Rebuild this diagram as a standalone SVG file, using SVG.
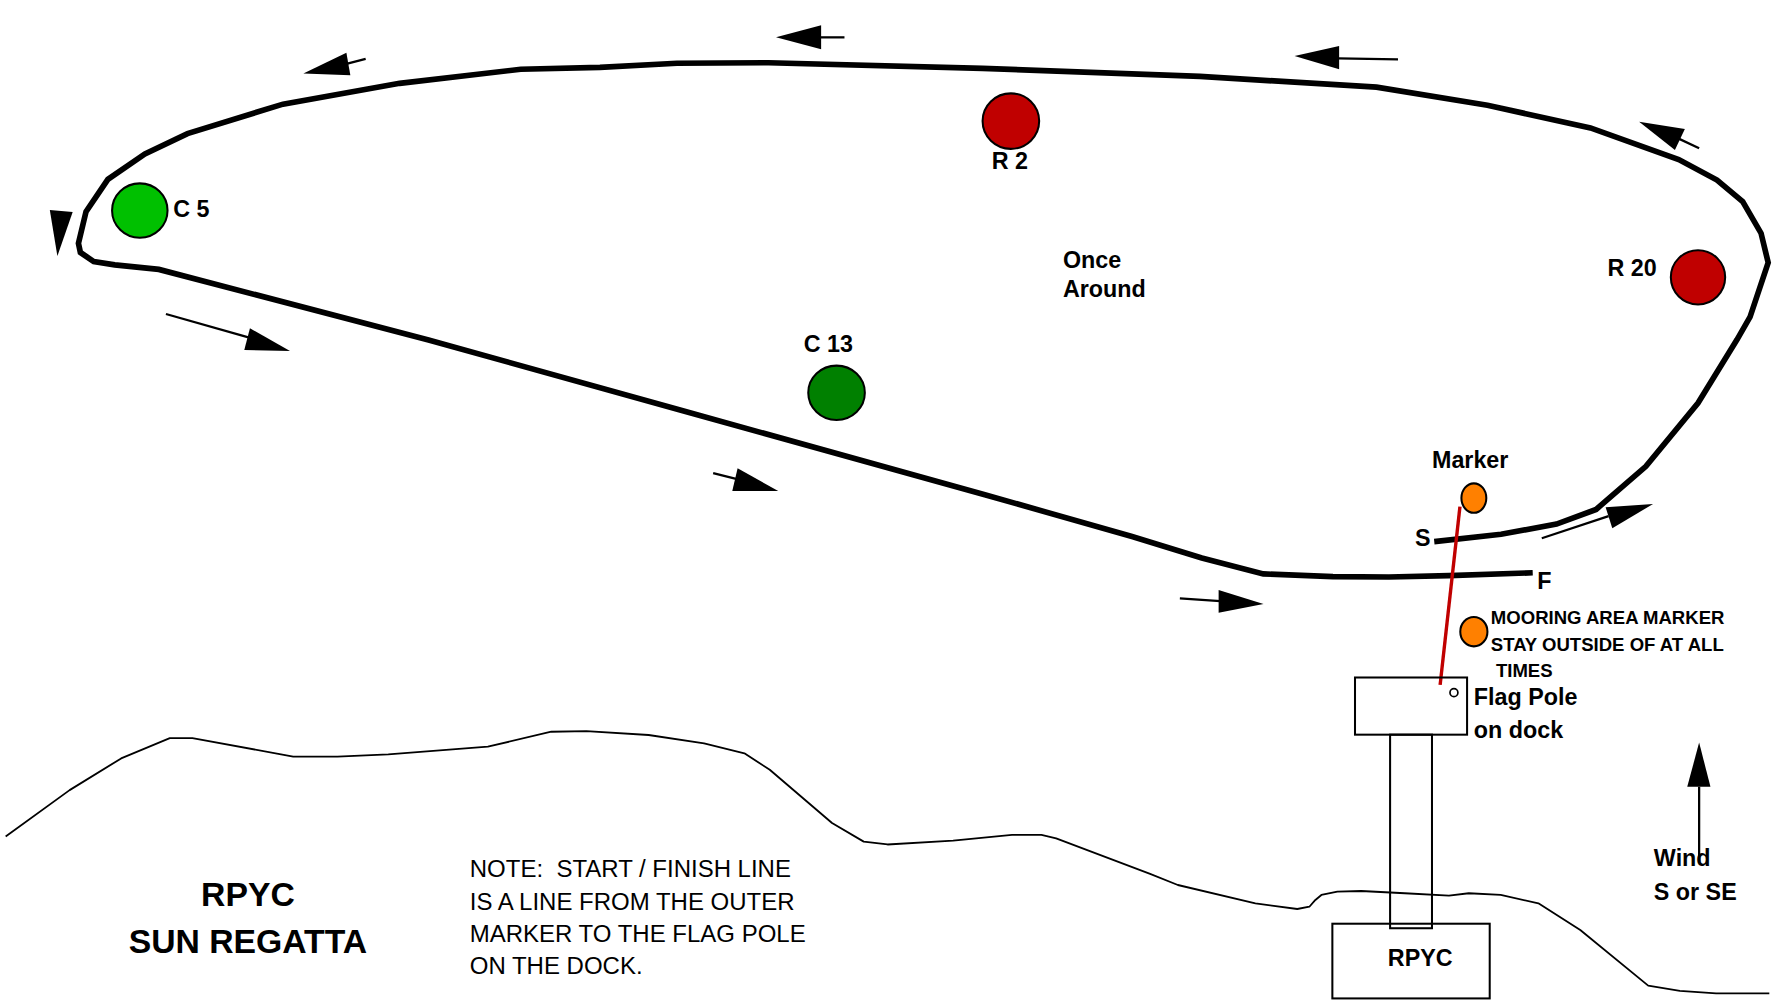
<svg xmlns="http://www.w3.org/2000/svg" width="1775" height="1001" viewBox="0 0 1775 1001">
<style>
.course{fill:none;stroke:#000;stroke-width:5;stroke-linejoin:miter;stroke-miterlimit:4}
.arr{fill:none;stroke:#000;stroke-width:2}
.head{fill:#000;stroke:none}
.shore{fill:none;stroke:#000;stroke-width:1.6;stroke-linejoin:round}
.buoy{stroke:#000;stroke-width:1.8}
.box{fill:none;stroke:#000;stroke-width:1.8}
.lbl{font-family:"Liberation Sans",Arial,sans-serif;font-weight:bold;font-size:20.6px;fill:#000}
.small{font-family:"Liberation Sans",Arial,sans-serif;font-weight:bold;font-size:16.4px;fill:#000}
.title{font-family:"Liberation Sans",Arial,sans-serif;font-weight:bold;font-size:29.8px;fill:#000;text-anchor:middle}
.note{font-family:"Liberation Sans",Arial,sans-serif;font-size:21.2px;fill:#000;white-space:pre}
</style>
<rect width="1775" height="1001" fill="#fff"/>
<g transform="scale(1.132)">
  <g id="shoreline">
    <polyline class="shore" points="5,739 61.5,698 107,670 150,652 170,652 259,668.4 298,668.4 343,666.4 431,659.6 487,646.4 518,645.8 573,649.3 622,656.6 657.6,665.5 680,680 735,727 763,743.5 784,746 842,742.6 894,737.6 920,737.6 933,740.6 1016,772 1040.5,781.8 1109,798 1146,803 1156.7,801 1162,795 1167.3,790.6 1181.4,787.7 1202.5,787.1 1241,789.1 1280,791.2 1297.5,789.1 1325.7,790.6 1359,798 1396,821.6 1456,870.7 1484,875.4 1516,877.5 1563,877.5"/>
  </g>
  <g id="course">
    <polyline class="course" points="1267,478.5 1326,472 1375,463 1410,450 1454,412 1500,356 1534.5,300 1546,280 1562,232 1555.7,206 1539.5,178 1516.8,159 1483,141 1405,113 1314,93 1216,77 1060,67.5 868,60.4 679,55.4 598,55.9 530,59.5 460,61.2 353,73.6 250,92 165.6,118 128,136 95.3,158.4 76,187 69.3,215 71,223 82.8,231 101.4,234 140.3,238 378.6,300.3 600,362 870,437 1000,474 1061.7,493 1116,507 1177.5,509.4 1227,509.7 1280,508.5 1354,506"/>
  </g>
  <g id="connectors">
    <line class="arr" x1="323" y1="52" x2="306" y2="56.5"/>
    <polygon class="head" points="268,65 306,46.5 309.5,66.5"/>
    <line class="arr" x1="746" y1="33" x2="724" y2="33"/>
    <polygon class="head" points="685.5,33 725.4,22.4 725.4,43.5"/>
    <line class="arr" x1="1235" y1="52.4" x2="1182" y2="51.5"/>
    <polygon class="head" points="1143.6,49.5 1183,40.6 1183,61.2"/>
    <line class="arr" x1="1501" y1="131" x2="1482" y2="122"/>
    <polygon class="head" points="1448,107.5 1488.4,114 1479.6,132.5"/>
    <polygon class="head" points="44,185.5 64.2,187.3 50.7,226.2"/>
    <line class="arr" x1="146.6" y1="277.4" x2="221" y2="298.5"/>
    <polygon class="head" points="220.8,290 215.8,309.2 256.2,310"/>
    <line class="arr" x1="630" y1="418" x2="652" y2="423.5"/>
    <polygon class="head" points="651.6,413.7 646.9,433.7 687.5,433.7"/>
    <line class="arr" x1="1042.3" y1="528.5" x2="1078" y2="531"/>
    <polygon class="head" points="1076.5,521.2 1076.5,541.2 1116.2,533.6"/>
    <line class="arr" x1="1362" y1="475.5" x2="1421" y2="456"/>
    <polygon class="head" points="1418.4,448.2 1424.3,466.7 1460.3,445.2"/>
    <line class="arr" x1="1501" y1="695" x2="1501" y2="761"/>
    <polygon class="head" points="1501,656 1490.5,695 1511,695"/>
    <line x1="1289.7" y1="447.6" x2="1272.2" y2="605" stroke="#c00000" stroke-width="3"/>
  </g>
  <g id="c5">
    <ellipse class="buoy" cx="123.5" cy="186" rx="24.5" ry="24" fill="#00c000"/>
    <text class="lbl" x="153" y="192">C 5</text>
  </g>
  <g id="r2">
    <ellipse class="buoy" cx="893" cy="107" rx="25" ry="24.5" fill="#c00000"/>
    <text class="lbl" x="876" y="149">R 2</text>
  </g>
  <g id="c13">
    <ellipse class="buoy" cx="739" cy="347" rx="25" ry="24" fill="#008000"/>
    <text class="lbl" x="710" y="311">C 13</text>
  </g>
  <g id="r20">
    <ellipse class="buoy" cx="1500" cy="245" rx="24" ry="24" fill="#c00000"/>
    <text class="lbl" x="1420" y="244">R 20</text>
  </g>
  <g id="once-around">
    <text class="lbl" x="939" y="237">Once</text>
    <text class="lbl" x="939" y="262">Around</text>
  </g>
  <g id="marker">
    <ellipse class="buoy" cx="1302" cy="440" rx="11" ry="13" fill="#ff8000"/>
    <text class="lbl" x="1265" y="413.5">Marker</text>
  </g>
  <g id="start-finish">
    <text class="lbl" x="1250" y="482">S</text>
    <text class="lbl" x="1358" y="520">F</text>
  </g>
  <g id="mooring">
    <ellipse class="buoy" cx="1302" cy="558" rx="12" ry="13" fill="#ff8000"/>
    <text class="small" x="1317" y="551">MOORING AREA MARKER</text>
    <text class="small" x="1317" y="575">STAY OUTSIDE OF AT ALL</text>
    <text class="small" x="1321.5" y="598">TIMES</text>
  </g>
  <g id="dock">
    <rect class="box" x="1177" y="816" width="139" height="66"/>
    <rect class="box" x="1228" y="649" width="37" height="171"/>
    <rect class="box" x="1197" y="598.5" width="99" height="50.5"/>
    <circle cx="1284.4" cy="611.9" r="3.5" fill="#fff" stroke="#000" stroke-width="1.5"/>
    <text class="lbl" x="1302" y="623">Flag Pole</text>
    <text class="lbl" x="1302" y="652">on dock</text>
    <text class="lbl" x="1226" y="853">RPYC</text>
  </g>
  <g id="wind">
    <text class="lbl" x="1461" y="765">Wind</text>
    <text class="lbl" x="1461" y="795">S or SE</text>
  </g>
  <g id="title">
    <text class="title" x="219" y="800">RPYC</text>
    <text class="title" x="219" y="842">SUN REGATTA</text>
  </g>
  <g id="note">
    <text class="note" x="415" y="775" xml:space="preserve">NOTE:  START / FINISH LINE</text>
    <text class="note" x="415" y="804">IS A LINE FROM THE OUTER</text>
    <text class="note" x="415" y="832">MARKER TO THE FLAG POLE</text>
    <text class="note" x="415" y="860">ON THE DOCK.</text>
  </g>
</g>
</svg>
